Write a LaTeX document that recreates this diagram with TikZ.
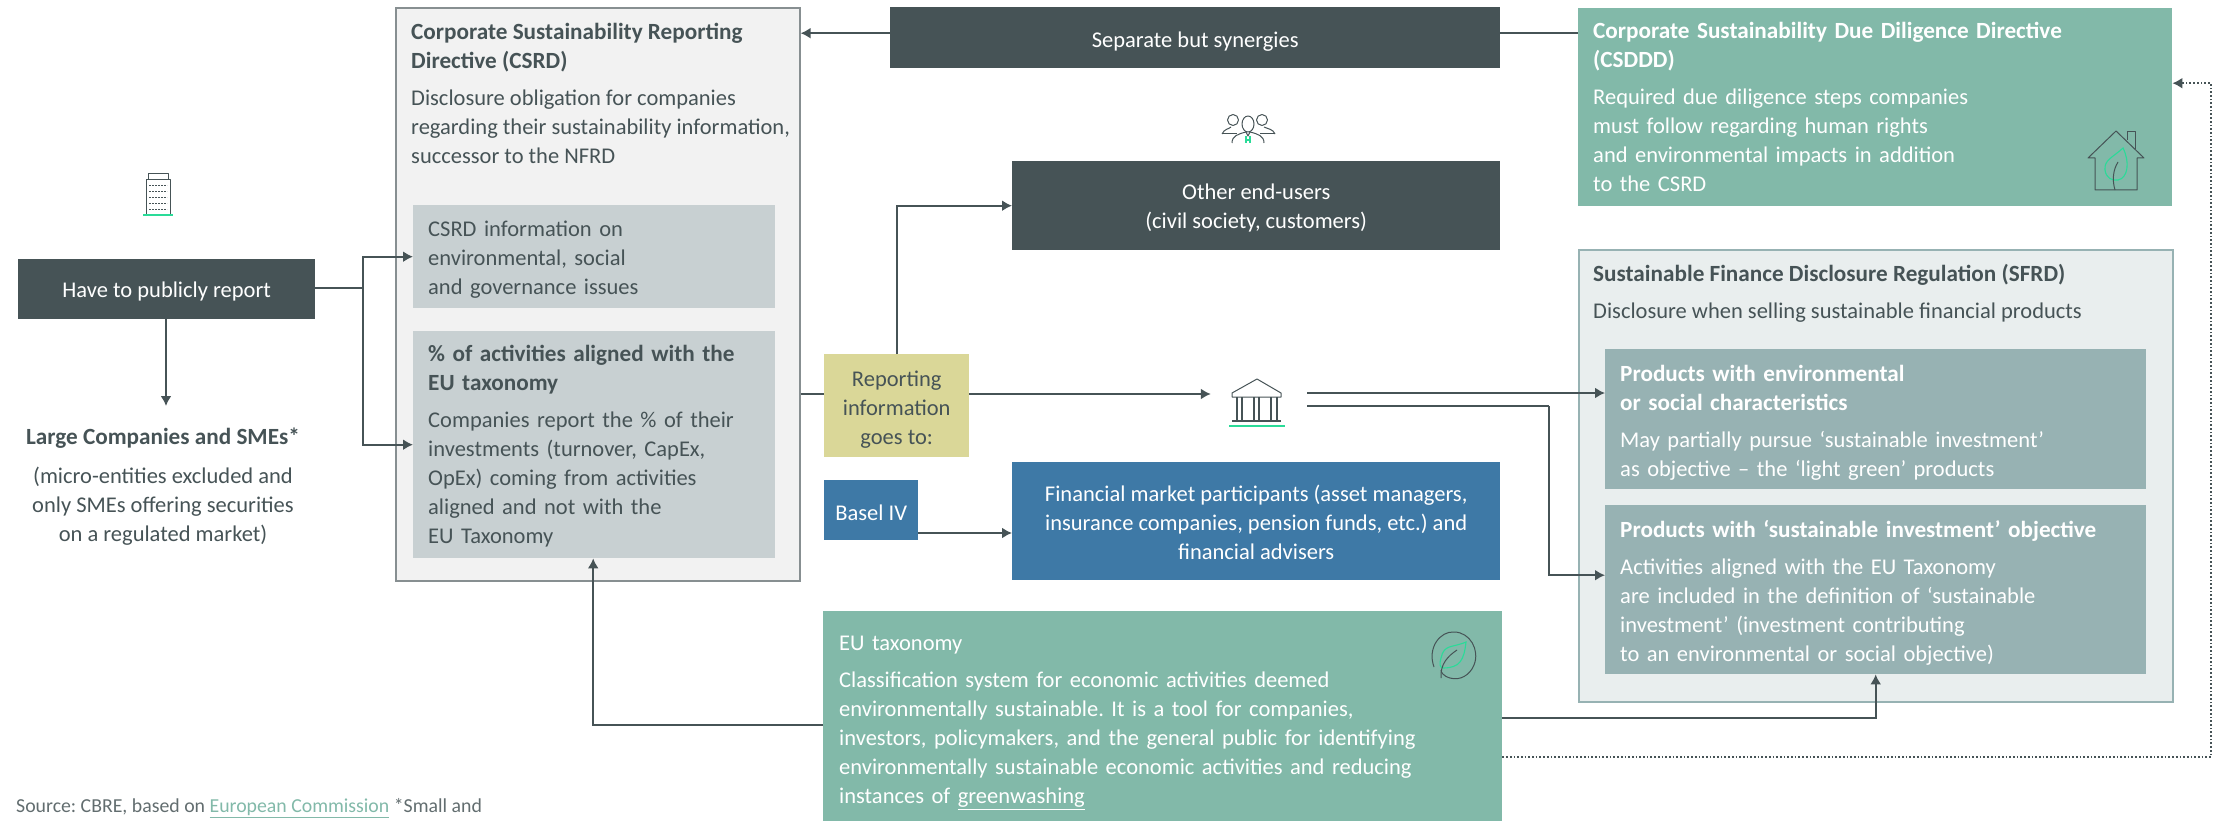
\documentclass[tikz,border=0pt]{standalone}
\usepackage{fontspec}
\setmainfont{Carlito}
\usepackage{tikz}
\usetikzlibrary{positioning,arrows.meta}
\definecolor{slate}{HTML}{465356}
\definecolor{teal}{HTML}{82B9A9}
\definecolor{mist}{HTML}{C8D0D2}
\definecolor{haze}{HTML}{F2F2F2}
\definecolor{sage}{HTML}{97B2B3}
\definecolor{frost}{HTML}{E9EEEE}
\definecolor{ocean}{HTML}{3E79A6}
\definecolor{straw}{HTML}{DAD798}
\definecolor{mint}{HTML}{2ADB98}
\newcommand{\headline}[1]{{\fontsize{23.2}{29}\selectfont\bfseries #1}}
\frenchspacing
\tikzset{
  panel/.style 2 args={anchor=north west,inner xsep=15pt,inner ysep=0pt,text width=#1pt,minimum height=#2pt,align=left,text=white},
  tag/.style 2 args={anchor=north west,inner sep=0pt,minimum width=#1pt,minimum height=#2pt,align=center,text=white},
  sink/.style={text height=#1pt},
  wire/.style={draw=slate,line width=1.9pt},
  icon/.style={draw=slate,line width=1pt,line join=round},
  sprout/.style={draw=mint,line width=1.1pt}
}
\begin{document}
\begin{tikzpicture}[x=1pt,y=-1pt,>={Latex[length=10pt,width=11pt]},every node/.style={font=\fontsize{22.5}{29}\selectfont,text=slate}]
    \useasboundingbox (0,0) rectangle (2215,821);

    % left column
    \node [tag={297}{60},fill=slate,sink=20.5] (have) at (18,259) {Have to publicly report};
    \node [inner sep=0pt,anchor=north,align=center] (large) at (163,428) {\headline{Large Companies and SMEs*}\\[10pt](micro-entities excluded and\\only SMEs offering securities\\on a regulated market)};
    \coordinate (split) at (363,288);
    \coordinate (largetip) at (166,406);

    % CSRD
    \node [tag={404}{573},fill=haze,draw=slate!65,line width=1.6pt] (csrd) at (395,7) {};
    \node [anchor=north west,inner sep=0pt,align=left] (csrdtext) at (411,23) {\headline{Corporate Sustainability Reporting}\\\headline{Directive (CSRD)}\\[8pt]Disclosure obligation for companies\\regarding their sustainability information,\\successor to the NFRD};
    \node [panel={332}{103},fill=mist,text=slate,sink=21.5] (esg) at (413,205) {CSRD information on\\environmental, social\\and governance issues};
    \node [panel={332}{227},fill=mist,text=slate,sink=19.5] (align) at (413,331) {\headline{\% of activities aligned with the}\\\headline{EU taxonomy}\\[8pt]Companies report the \% of their\\investments (turnover, CapEx,\\OpEx) coming from activities\\aligned and not with the\\EU Taxonomy};

    % middle column
    \node [tag={610}{61},fill=slate,sink=22.5] (synergy) at (890,7) {Separate but synergies};
    \node [tag={488}{89},fill=slate,sink=50] (others) at (1012,161) {Other end-users\\(civil society, customers)};
    \node [tag={145}{103},fill=straw,text=slate,sink=81] (goes) at (824,354) {Reporting\\information\\goes to:};
    \node [tag={94}{60},fill=ocean,sink=20] (basel) at (824,480) {Basel IV};
    \node [tag={488}{118},fill=ocean,sink=76] (market) at (1012,462) {Financial market participants (asset managers,\\insurance companies, pension funds, etc.) and\\financial advisers};
    \node [panel={647}{210},fill=teal,inner xsep=16pt,sink=28] (taxonomy) at (823,611) {EU taxonomy\\[8pt]Classification system for economic activities deemed\\environmentally sustainable. It is a tool for companies,\\investors, policymakers, and the general public for identifying\\environmentally sustainable economic activities and reducing\\instances of \underline{greenwashing}};
    \node [inner sep=0pt,minimum width=96pt,minimum height=48pt] (bank) at (1259,394) {};

    % right column
    \node [panel={564}{198},fill=teal] (csddd) at (1578,8) {\headline{Corporate Sustainability Due Diligence Directive}\\\headline{(CSDDD)}\\[8pt]Required due diligence steps companies\\must follow regarding human rights\\and environmental impacts in addition\\to the CSRD};
    \node [tag={594}{452},fill=frost,draw=sage,line width=1.6pt] (sfdr) at (1578,249) {};
    \node [anchor=north west,inner sep=0pt,align=left] (sfdrtext) at (1593,264) {\headline{Sustainable Finance Disclosure Regulation (SFRD)}\\[8pt]Disclosure when selling sustainable financial products};
    \node [panel={511}{140},fill=sage,sink=23.5] (traits) at (1605,349) {\headline{Products with environmental}\\\headline{or social characteristics}\\[8pt]May partially pursue ‘sustainable investment’\\as objective – the ‘light green’ products};
    \node [panel={511}{169},fill=sage,sink=23] (objective) at (1605,505) {\headline{Products with ‘sustainable investment’ objective}\\[8pt]Activities aligned with the EU Taxonomy\\are included in the definition of ‘sustainable\\investment’ (investment contributing\\to an environmental or social objective)};

    \node [anchor=west,inner sep=0pt,font=\fontsize{19.8}{24}\selectfont,text=slate!85] (source) at (16,808) {Source: CBRE, based on {\color{teal}\underline{European Commission}} *Small and};

    % connectors
    \draw [wire] (have.east |- split) -- (split);
    \draw [wire,->] (have.south -| largetip) -- (largetip);
    \draw [wire,->] (split) |- (esg.west);
    \draw [wire,->] (split) |- (align.west);
    \draw [wire,->] ([yshift=4.5]synergy.west) -- ([yshift=4.5]synergy.west -| csrd.east);
    \draw [wire] ([yshift=4.5]synergy.east) -- ([yshift=4.5]synergy.east -| csddd.west);
    \draw [wire,->] (goes.north) |- (others.west);
    \draw [wire] (csrd.east |- bank.west) -- (goes.west |- bank.west);
    \draw [wire,->] (goes.east |- bank.west) -- (bank.west);
    \draw [wire,->] ([yshift=1]bank.east) -- ([yshift=1]bank.east -| traits.west);
    \draw [wire] ([yshift=-12]bank.east) -- ++(242,0) coordinate (drop);
    \draw [wire,->] (drop) |- ([yshift=14.5]objective.west);
    \draw [wire,->] (basel.east |- 0,533) -- (market.west |- 0,533);
    \draw [wire,->] ([yshift=-9]taxonomy.west) -| ([xshift=-1]align.south);
    \draw [wire,->] ([yshift=-2]taxonomy.east) -| (objective.south);
    \coordinate (bend) at (2211,757);
    \draw [wire,line width=1.7pt,dotted,->] (taxonomy.east |- bend) -- (bend) |- ([yshift=24]csddd.east);

    % icons
    \draw [icon] (146,215) -- (146,180) -- (170,180) -- (170,215);
    \draw [icon,line width=.8pt] (148,180) -- (148,173) -- (168,173) -- (168,180);
    \foreach \floor in {185,191,197,203,209,214}
        \draw [icon,line width=.6pt,dash pattern=on 2pt off 1pt] (149,\floor) -- (167,\floor);
    \draw [sprout,line width=1.6pt] (143,215) -- (173,215);

    \draw [icon] (1248,124) ellipse [x radius=6,y radius=8];
    \draw [icon] (1233,120) circle [radius=5.5];
    \draw [icon] (1262,120) circle [radius=5.5];
    \draw [icon] (1222,134) .. controls (1224,129) and (1229,129) .. (1231,127);
    \draw [icon] (1275,134) .. controls (1273,129) and (1268,129) .. (1264,127);
    \draw [icon] (1222,134) -- (1237,134);
    \draw [icon] (1260,134) -- (1275,134);
    \draw [icon] (1232,143) .. controls (1232,136) and (1238,134) .. (1246,132) -- (1248,136) -- (1250,132) .. controls (1258,134) and (1264,136) .. (1264,143);
    \draw [sprout] (1246,136) -- (1246,143) (1250,136) -- (1250,143) (1246,140) -- (1250,140);

    \draw [icon] (1232,393) -- (1257,379) -- (1281,393) -- (1281,397) -- (1232,397) -- cycle;
    \foreach \col in {1237,1242,1254,1259,1271,1277}
        \draw [icon,line width=1.6pt] (\col,397) -- (\col,420);
    \draw [icon,line width=1.6pt] (1232,421) -- (1281,421);
    \draw [sprout,line width=2pt] (1229,426) -- (1285,426);

    \draw [icon] (2088,158) -- (2116,131) -- (2144,158) -- (2137,158) -- (2137,190) -- (2095,190) -- (2095,158) -- cycle;
    \draw [icon] (2127,140) -- (2127,132) -- (2135,132) -- (2135,149);
    \draw [sprout] (2123,148) .. controls (2112,158) and (2104,160) .. (2105,170) .. controls (2106,178) and (2112,181) .. (2118,180) .. controls (2128,178) and (2130,162) .. cycle;
    \draw [icon] (2118,162) .. controls (2113,170) and (2112,180) .. (2115,190);

    \draw [icon] (1434,667) .. controls (1427,648) and (1440,631) .. (1454,632) .. controls (1470,632) and (1480,650) .. (1474,665) .. controls (1470,675) and (1460,681) .. (1450,678) .. controls (1443,676) and (1441,672) .. (1441,670);
    \draw [sprout] (1466,642) .. controls (1452,648) and (1444,644) .. (1441,658) .. controls (1439,664) and (1440,668) .. (1443,668) .. controls (1460,668) and (1464,660) .. cycle;
    \draw [icon] (1457,650) .. controls (1448,656) and (1440,664) .. (1441,678);
\end{tikzpicture}
\end{document}
